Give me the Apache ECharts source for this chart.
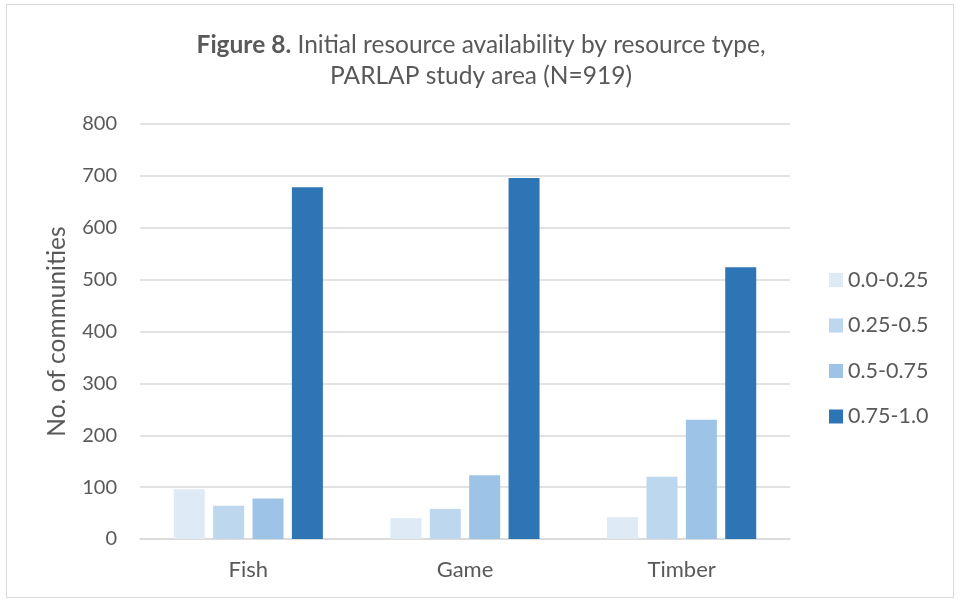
<!DOCTYPE html>
<html>
<head>
<meta charset="utf-8">
<script src="https://cdn.jsdelivr.net/npm/echarts@6/dist/echarts.min.js"></script>
<style>
html,body{margin:0;padding:0;background:#fff;}
#frame{position:absolute;left:6px;top:4px;width:948px;height:594px;border:1.5px solid #d9d9d9;box-sizing:border-box;}
#chart{position:absolute;left:0;top:0;width:962px;height:602px;}
</style>
</head>
<body>
<div id="frame"></div>
<div id="chart"></div>
<script>
const categories = ['Fish', 'Game', 'Timber'];
const seriesNames = ['0.0-0.25', '0.25-0.5', '0.5-0.75', '0.75-1.0'];
const v000_025 = [96, 40, 42];
const v025_050 = [64, 58, 120];
const v050_075 = [78, 123, 230];
const v075_100 = [678, 696, 524];
const yTicks = [0, 100, 200, 300, 400, 500, 600, 700, 800];

const colors = ['#DEEAF6', '#BDD7EE', '#9DC3E6', '#2E75B6'];
const values = [v000_025, v025_050, v050_075, v075_100];
const FONT = 'Lato';

const chart = echarts.init(document.getElementById('chart'));
chart.setOption({
  animation: false,
  backgroundColor: 'transparent',
  title: {
    text: '{b|Figure 8.} Initial resource availability by resource type,\nPARLAP study area (N=919)',
    left: 'center',
    top: 25,
    textStyle: {
      fontFamily: FONT, fontSize: 24.5, color: '#595959', fontWeight: 'normal', lineHeight: 31,
      rich: { b: { fontFamily: FONT, fontSize: 24.5, fontWeight: 'bold', color: '#595959', lineHeight: 31 } }
    }
  },
  legend: {
    orient: 'vertical',
    left: 824,
    top: 264,
    itemWidth: 14,
    itemHeight: 14,
    itemGap: 23.5,
    icon: 'rect',
    textStyle: { fontFamily: FONT, fontSize: 21.5, color: '#595959' },
    data: seriesNames
  },
  grid: { left: 140, right: 172, top: 124, bottom: 63, containLabel: false },
  xAxis: {
    type: 'category',
    data: categories,
    axisLine: { lineStyle: { color: '#d9d9d9', width: 1.5 } },
    axisTick: { show: false },
    axisLabel: { fontFamily: FONT, fontSize: 22, color: '#595959', margin: 20 }
  },
  yAxis: {
    type: 'value',
    min: yTicks[0],
    max: yTicks[yTicks.length - 1],
    interval: 100,
    name: 'No. of communities',
    nameLocation: 'middle',
    nameGap: 70,
    nameTextStyle: { fontFamily: FONT, fontSize: 24.5, color: '#595959' },
    axisLine: { show: false },
    axisTick: { show: false },
    splitLine: { lineStyle: { color: '#d9d9d9', width: 1.5 } },
    axisLabel: { fontFamily: FONT, fontSize: 20, color: '#595959', margin: 23 }
  },
  series: seriesNames.map((n, i) => ({
    name: n,
    type: 'bar',
    data: values[i],
    barWidth: 31,
    barGap: '27%',
    itemStyle: { color: colors[i] }
  }))
});
</script>
</body>
</html>
